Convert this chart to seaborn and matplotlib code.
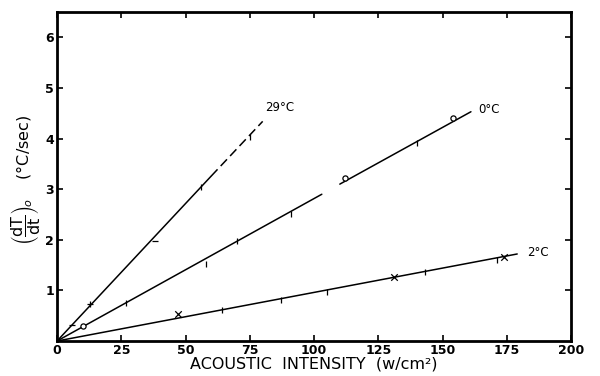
import matplotlib
matplotlib.use("Agg")
import matplotlib.pyplot as plt
import seaborn as sns
import pandas as pd
import numpy as np

# ---- data ----
x_29 = [6, 13, 38, 56, 75]
y_29 = [0.32, 0.73, 1.98, 3.05, 4.04]
m_29 = ["_", "+", "_", "|", "|"]

x_0 = [10, 27, 58, 70, 91, 112, 140, 154]
y_0 = [0.30, 0.75, 1.52, 1.98, 2.51, 3.23, 3.92, 4.40]
m_0 = ["o", "|", "|", "|", "|", "o", "|", "o"]

x_2 = [47, 64, 87, 105, 131, 143, 171, 174]
y_2 = [0.53, 0.61, 0.81, 0.97, 1.27, 1.37, 1.60, 1.66]
m_2 = ["x", "|", "|", "|", "x", "|", "|", "x"]

# fitted straight lines (segments, as drawn in the figure)
fit_29_solid_x = [0, 60]
fit_29_solid_y = [0, 3.26]
fit_29_dash_x = [60, 80]
fit_29_dash_y = [3.26, 4.34]
fit_0a_x = [0, 103]
fit_0a_y = [0, 2.90]
fit_0b_x = [110, 161]
fit_0b_y = [3.10, 4.53]
fit_2_x = [0, 179]
fit_2_y = [0, 1.72]

labels = ["29°C", "0°C", "2°C"]
label_x = [81, 164, 183]
label_y = [4.62, 4.57, 1.74]

x_ticks = [0, 25, 50, 75, 100, 125, 150, 175, 200]
y_ticks = [1, 2, 3, 4, 5, 6]

# ---- plotting ----
sns.set_style("white")
plt.rcParams["font.family"] = ["DejaVu Sans"]
plt.rcParams["text.color"] = "black"
plt.rcParams["axes.labelcolor"] = "black"

fig = plt.figure(figsize=(6.0, 3.76), dpi=100)
ax = fig.add_axes([0.095, 0.093, 0.857, 0.875])

def seg(xs, ys, ls="-"):
    sns.lineplot(x=xs, y=ys, ax=ax, color="black", lw=1.1, linestyle=ls,
                 estimator=None, sort=False)

seg(fit_29_solid_x, fit_29_solid_y)
seg(fit_29_dash_x, fit_29_dash_y, (0, (6, 3)))
seg(fit_0a_x, fit_0a_y)
seg(fit_0b_x, fit_0b_y)
seg(fit_2_x, fit_2_y)

pts = pd.DataFrame({
    "x": x_29 + x_0 + x_2,
    "y": y_29 + y_0 + y_2,
    "m": m_29 + m_0 + m_2,
})
for mk, grp in pts.groupby("m"):
    if mk == "o":
        ax.scatter(grp["x"], grp["y"], marker="o", s=14, facecolors="white",
                   edgecolors="black", linewidths=0.9, zorder=3)
    else:
        sns.scatterplot(data=grp, x="x", y="y", marker=mk, s=22, color="black",
                        linewidth=0.9, ax=ax, zorder=3)

for t, lx, ly in zip(labels, label_x, label_y):
    ax.text(lx, ly, t, fontsize=8.5, va="center", ha="left", color="black")

ax.set_xlim(0, 200)
ax.set_ylim(0, 6.5)
ax.set_xticks(x_ticks)
ax.set_xticklabels([str(v) for v in x_ticks], fontsize=9, fontweight="bold")
ax.set_yticks(y_ticks)
ax.set_yticklabels([str(v) for v in y_ticks], fontsize=9, fontweight="bold")
ax.tick_params(axis="both", direction="in", length=4, width=1.2, pad=2,
               top=True, right=True, bottom=True, left=True, colors="black")
for sp in ax.spines.values():
    sp.set_visible(True)
    sp.set_color("black")
    sp.set_linewidth(2.0)

ax.set_xlabel("ACOUSTIC  INTENSITY  (w/cm²)", fontsize=11.5, labelpad=0,
              color="black")
ax.set_ylabel(r"$\left(\dfrac{\mathrm{dT}}{\mathrm{dt}}\right)_{\!o}$    (°C/sec)",
              fontsize=11.5, color="black")
ax.yaxis.set_label_coords(-0.03, 0.49)

fig.savefig("out.png", dpi=100)
